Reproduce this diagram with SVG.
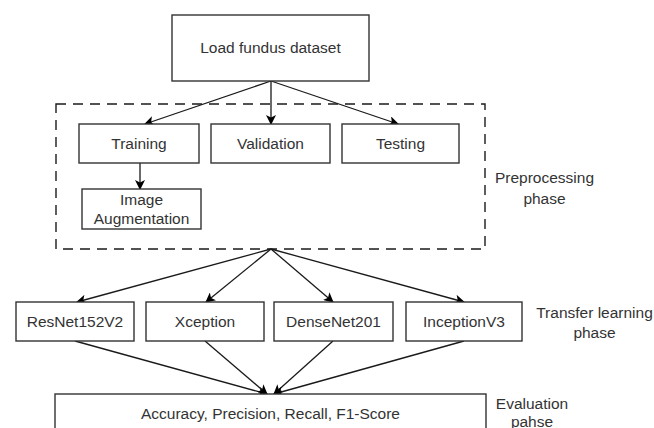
<svg xmlns="http://www.w3.org/2000/svg" width="654" height="428" viewBox="0 0 654 428">
  <style>
    .box { fill: #ffffff; stroke: #333333; stroke-width: 1.4; }
    .lbl { font-family: "Liberation Sans", Arial, sans-serif; font-size: 15.5px; fill: #333333; text-anchor: middle; }
    .edge { fill: none; stroke: #1a1a1a; stroke-width: 1.3; marker-end: url(#arrow); }
    .group { fill: none; stroke: #1a1a1a; stroke-width: 1.4; stroke-dasharray: 10 7; }
  </style>
  <defs>
    <marker id="arrow" viewBox="0 0 10 10" refX="9" refY="5" markerWidth="10" markerHeight="10" markerUnits="userSpaceOnUse" orient="auto">
      <path d="M0,0 L10,5 L0,10 L2.5,5 Z" fill="#000000"/>
    </marker>
  </defs>
  <rect width="654" height="428" fill="#ffffff"/>

  <!-- preprocessing phase container -->
  <g id="preprocessing-group">
    <rect class="group" x="56" y="104" width="429" height="145"/>
  </g>

  <g id="connectors">
    <line class="edge" x1="271" y1="81" x2="145" y2="124"/>
    <line class="edge" x1="271" y1="81" x2="271" y2="124"/>
    <line class="edge" x1="271" y1="81" x2="398" y2="124"/>
    <line class="edge" x1="140" y1="163" x2="140" y2="189"/>
    <line class="edge" x1="271" y1="249" x2="77" y2="302"/>
    <line class="edge" x1="271" y1="249" x2="206" y2="302"/>
    <line class="edge" x1="271" y1="249" x2="333" y2="302"/>
    <line class="edge" x1="271" y1="249" x2="464" y2="302"/>
    <line class="edge" x1="75" y1="341" x2="267" y2="394"/>
    <line class="edge" x1="205" y1="341" x2="267" y2="394"/>
    <line class="edge" x1="333" y1="341" x2="274" y2="394"/>
    <line class="edge" x1="464" y1="341" x2="274" y2="394"/>
  </g>

  <g id="load-dataset">
    <rect class="box" x="172" y="15" width="197" height="66"/>
    <text class="lbl" x="270.5" y="53">Load fundus dataset</text>
  </g>
  <g id="training">
    <rect class="box" x="79" y="124" width="120" height="39"/>
    <text class="lbl" x="139" y="149">Training</text>
  </g>
  <g id="validation">
    <rect class="box" x="211" y="124" width="119" height="39"/>
    <text class="lbl" x="270.5" y="149">Validation</text>
  </g>
  <g id="testing">
    <rect class="box" x="342" y="124" width="117" height="39"/>
    <text class="lbl" x="400.5" y="149">Testing</text>
  </g>
  <g id="image-augmentation">
    <rect class="box" x="82" y="189" width="119" height="40"/>
    <text class="lbl" x="141.5" y="205">Image</text>
    <text class="lbl" x="141.5" y="224">Augmentation</text>
  </g>

  <g id="resnet152v2">
    <rect class="box" x="16" y="302" width="118" height="39"/>
    <text class="lbl" x="75" y="327">ResNet152V2</text>
  </g>
  <g id="xception">
    <rect class="box" x="146" y="302" width="118" height="39"/>
    <text class="lbl" x="205" y="327">Xception</text>
  </g>
  <g id="densenet201">
    <rect class="box" x="274" y="302" width="119" height="39"/>
    <text class="lbl" x="333.5" y="327">DenseNet201</text>
  </g>
  <g id="inceptionv3">
    <rect class="box" x="406" y="302" width="116" height="39"/>
    <text class="lbl" x="464" y="327">InceptionV3</text>
  </g>

  <g id="evaluation">
    <rect class="box" x="55" y="394" width="431" height="50"/>
    <text class="lbl" x="270.5" y="419">Accuracy, Precision, Recall, F1-Score</text>
  </g>

  <!-- phase captions -->
  <g id="phase-labels">
    <text class="lbl" x="544.5" y="183">Preprocessing</text>
    <text class="lbl" x="544.5" y="204">phase</text>
    <text class="lbl" x="594.5" y="318">Transfer learning</text>
    <text class="lbl" x="594.5" y="338">phase</text>
    <text class="lbl" x="532" y="409">Evaluation</text>
    <text class="lbl" x="532" y="427">pahse</text>
  </g>
</svg>
